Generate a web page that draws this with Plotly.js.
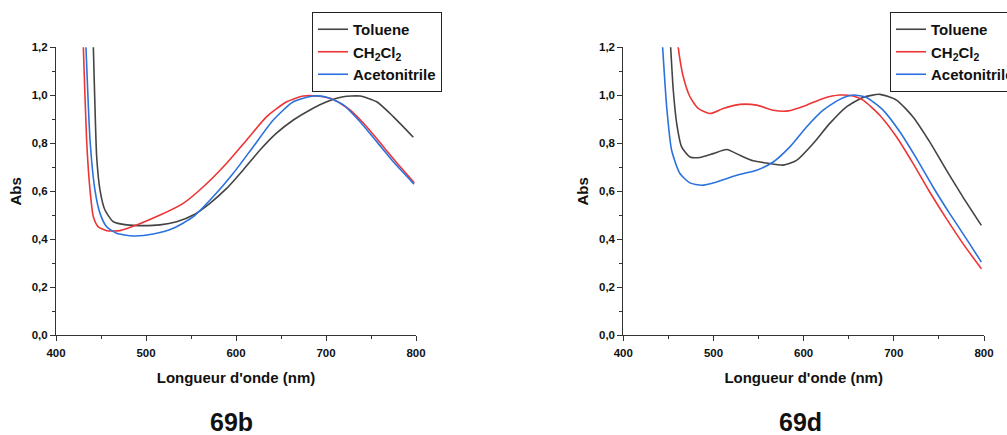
<!DOCTYPE html>
<html>
<head>
<meta charset="utf-8">
<script src="https://cdn.plot.ly/plotly-3.0.1.min.js"></script>
<style>
  html, body { margin: 0; padding: 0; background: #ffffff; overflow: hidden; }
  #wrap { width: 1007px; height: 435px; overflow: hidden; position: relative; }
  #chart { width: 1040px; height: 435px; position: absolute; left: 0; top: 0; }
</style>
</head>
<body>
<div id="wrap"><div id="chart"></div></div>
<script>
// ---------- 69b ----------
const b_toluene_x = [440.5, 441.5, 443.3, 445.2, 448.9, 454.4, 463.7, 478.5, 497, 515.6, 534, 552.6, 571, 589.6, 608, 626.7, 645, 663.7, 682.2, 700.8, 719.2, 737.8, 756.3, 774.8, 797];
const b_toluene_y = [1.35, 1.202, 0.952, 0.744, 0.605, 0.522, 0.473, 0.460, 0.457, 0.460, 0.473, 0.501, 0.55, 0.612, 0.689, 0.772, 0.842, 0.897, 0.939, 0.973, 0.994, 0.997, 0.973, 0.911, 0.825];

const b_ch2cl2_x = [429, 430.4, 434, 437.8, 441.5, 447, 456.3, 471, 489.7, 515.6, 541.4, 563.7, 589.6, 611.9, 634.1, 656.3, 674.8, 689.7, 708.1, 726.7, 745.2, 763.7, 782.2, 798.1];
const b_ch2cl2_y = [1.35, 1.2, 0.814, 0.605, 0.494, 0.452, 0.436, 0.436, 0.460, 0.501, 0.55, 0.619, 0.717, 0.814, 0.911, 0.973, 0.997, 0.997, 0.983, 0.939, 0.869, 0.786, 0.703, 0.636];

const b_acn_x = [432, 433.3, 437.8, 443.3, 448.9, 456.3, 467.4, 485.9, 508.1, 530.3, 552.6, 574.8, 597, 619.2, 641.4, 663.7, 685.9, 700.8, 719.2, 737.8, 756.3, 774.8, 797.8];
const b_acn_y = [1.32, 1.2, 0.814, 0.605, 0.508, 0.452, 0.425, 0.414, 0.422, 0.446, 0.494, 0.578, 0.675, 0.786, 0.897, 0.973, 0.997, 0.992, 0.96, 0.89, 0.807, 0.723, 0.630];

// ---------- 69d ----------
const d_toluene_x = [450, 452.5, 455.4, 459.2, 464.7, 473.9, 485, 499.7, 514.6, 529.3, 544, 558.9, 577.3, 592.1, 610.5, 629, 647.5, 665.9, 684.4, 702.9, 721.3, 739.8, 758.3, 776.7, 797.1];
const d_toluene_y = [1.35, 1.2, 1.022, 0.883, 0.785, 0.743, 0.741, 0.757, 0.774, 0.750, 0.727, 0.718, 0.709, 0.729, 0.799, 0.883, 0.952, 0.991, 1.004, 0.980, 0.910, 0.806, 0.688, 0.576, 0.458];

const d_ch2cl2_x = [458, 460.9, 466.5, 473.9, 483.1, 496.1, 510.8, 529.3, 547.8, 566.2, 582.8, 603.2, 621.6, 640.1, 654.9, 665.9, 684.4, 702.9, 721.3, 739.8, 758.3, 776.7, 797.1];
const d_ch2cl2_y = [1.32, 1.2, 1.077, 0.994, 0.945, 0.924, 0.945, 0.962, 0.959, 0.938, 0.935, 0.959, 0.987, 1.001, 0.997, 0.980, 0.917, 0.827, 0.716, 0.597, 0.486, 0.382, 0.277];

const d_acn_x = [441, 443.6, 448.1, 453.6, 462.8, 473.9, 486.9, 503.5, 525.7, 547.8, 566.2, 584.7, 603.2, 621.6, 640.1, 654.9, 669.7, 688.1, 706.6, 725.1, 743.5, 762, 780.5, 797.1];
const d_acn_y = [1.35, 1.2, 0.952, 0.771, 0.674, 0.635, 0.625, 0.639, 0.667, 0.688, 0.722, 0.785, 0.868, 0.938, 0.983, 1.001, 0.991, 0.938, 0.848, 0.737, 0.618, 0.507, 0.402, 0.305];

const seriesNames = ['Toluene', 'CH<sub>2</sub>Cl<sub>2</sub>', 'Acetonitrile'];
const seriesColors = ['#444444', '#ee3535', '#2a72de'];
const panelLabels = ['69b', '69d'];
const xTitle = "Longueur d'onde (nm)";
const yTitle = 'Abs';

const FONT = 'Liberation Sans, Arial, sans-serif';

function mk(x, y, i, xa, ya, leg) {
  return {
    type: 'scatter', mode: 'lines', x: x, y: y,
    name: seriesNames[i], xaxis: xa, yaxis: ya, legend: leg,
    line: {color: seriesColors[i], width: 1.6, shape: 'spline', smoothing: 0.6},
    cliponaxis: true, hoverinfo: 'skip'
  };
}

const data = [
  mk(b_toluene_x, b_toluene_y, 0, 'x', 'y', 'legend'),
  mk(b_ch2cl2_x, b_ch2cl2_y, 1, 'x', 'y', 'legend'),
  mk(b_acn_x, b_acn_y, 2, 'x', 'y', 'legend'),
  mk(d_toluene_x, d_toluene_y, 0, 'x2', 'y2', 'legend2'),
  mk(d_ch2cl2_x, d_ch2cl2_y, 1, 'x2', 'y2', 'legend2'),
  mk(d_acn_x, d_acn_y, 2, 'x2', 'y2', 'legend2')
];

function xaxis(domain, anchor) {
  return {
    domain: domain, anchor: anchor, range: [400, 800], dtick: 100, tick0: 0,
    showline: true, linecolor: '#333333', linewidth: 1, showgrid: false, zeroline: false,
    ticks: 'outside', ticklen: 5, tickwidth: 1, tickcolor: '#333333', ticklabelstandoff: 2,
    minor: {ticks: 'outside', ticklen: 3, dtick: 50, tickcolor: '#333333', showgrid: false},
    tickfont: {family: FONT, size: 11.5, color: '#111111', weight: 'bold'},
    title: {text: xTitle, font: {family: FONT, size: 15, color: '#111111', weight: 'bold'}, standoff: 14},
    automargin: false, fixedrange: true
  };
}
function yaxis(domain, anchor) {
  return {
    domain: domain, anchor: anchor, range: [0, 1.2], dtick: 0.2, tick0: 0, tickformat: '.1f',
    showline: true, linecolor: '#333333', linewidth: 1, showgrid: false, zeroline: false,
    ticks: 'outside', ticklen: 5, tickwidth: 1, tickcolor: '#333333',
    minor: {ticks: 'outside', ticklen: 3, dtick: 0.1, tickcolor: '#333333', showgrid: false},
    tickfont: {family: FONT, size: 11.5, color: '#111111', weight: 'bold'},
    title: {text: yTitle, font: {family: FONT, size: 15, color: '#111111', weight: 'bold'}, standoff: 6},
    automargin: false, fixedrange: true
  };
}

const W = 1040, H = 435;
const yDom = [1 - 335.3 / H, 1 - 47.3 / H];

const legendCommon = {
  bgcolor: '#ffffff', bordercolor: '#222222', borderwidth: 1,
  font: {family: FONT, size: 15, color: '#111111', weight: 'bold'},
  xanchor: 'left', yanchor: 'top', tracegroupgap: 0, itemwidth: 30
};

const layout = {
  width: W, height: H,
  margin: {l: 0, r: 0, t: 0, b: 0, autoexpand: false},
  paper_bgcolor: '#ffffff', plot_bgcolor: '#ffffff',
  separators: ', ',
  showlegend: true,
  xaxis: xaxis([56 / W, 416 / W], 'y'),
  yaxis: yaxis(yDom, 'x'),
  xaxis2: xaxis([623.3 / W, 984 / W], 'y2'),
  yaxis2: yaxis(yDom, 'x2'),
  legend: Object.assign({}, legendCommon, {x: 312 / W, y: 1 - 12 / H}),
  legend2: Object.assign({}, legendCommon, {x: 890 / W, y: 1 - 12 / H}),
  annotations: [
    {text: panelLabels[0], xref: 'paper', yref: 'paper', x: 231 / W, y: 1 - 422 / H,
     xanchor: 'center', yanchor: 'middle', showarrow: false,
     font: {family: FONT, size: 25, color: '#111111', weight: 'bold'}},
    {text: panelLabels[1], xref: 'paper', yref: 'paper', x: 800 / W, y: 1 - 422 / H,
     xanchor: 'center', yanchor: 'middle', showarrow: false,
     font: {family: FONT, size: 25, color: '#111111', weight: 'bold'}}
  ]
};

Plotly.newPlot('chart', data, layout, {displayModeBar: false, staticPlot: true});
</script>
</body>
</html>
